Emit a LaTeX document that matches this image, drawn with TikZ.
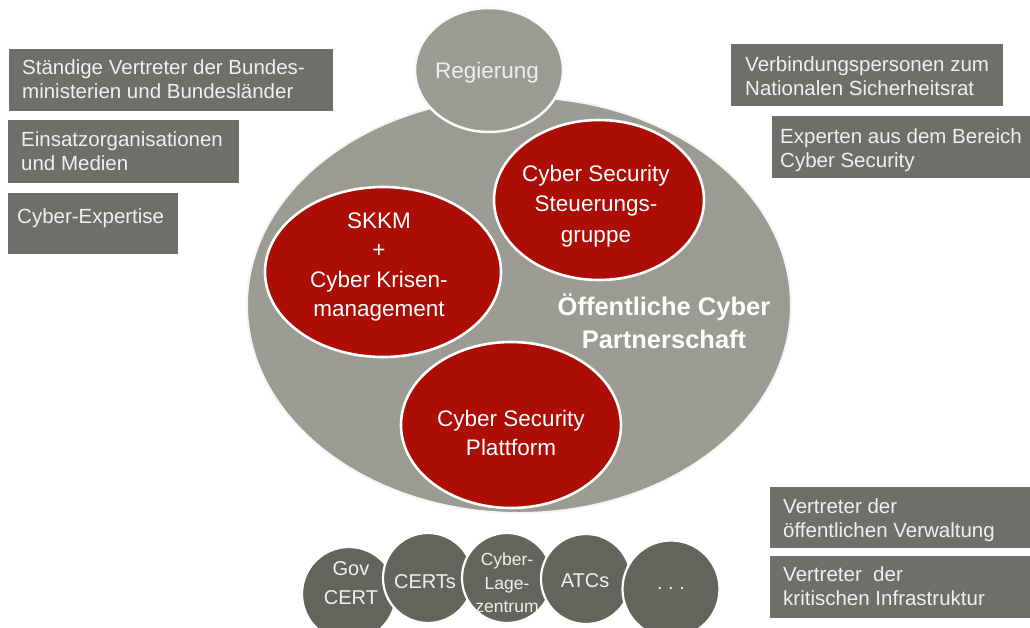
\documentclass[tikz,border=0pt]{standalone}
\usepackage{fontspec}
\setmainfont{Liberation Sans}
\usetikzlibrary{shapes.geometric}
\definecolor{bigGray}{HTML}{9C9B93}
\definecolor{redC}{HTML}{AC0D05}
\definecolor{boxGray}{HTML}{6F6E6B}
\definecolor{darkC}{HTML}{64635C}
\definecolor{txtL}{HTML}{F0F0F0}
\definecolor{edgeC}{HTML}{F5F5F5}
\begin{document}
\begin{tikzpicture}[x=1pt,y=-1pt,
  ell/.style={ellipse, inner sep=0pt, draw=edgeC},
  bigell/.style={ell, fill=bigGray, line width=2pt},
  redell/.style={ell, fill=redC, line width=2.6pt, draw=white},
  darkcirc/.style={circle, inner sep=0pt, fill=darkC, draw=white, line width=2.2pt},
  boxC/.style={rectangle, fill=boxGray, inner sep=0pt, anchor=north west},
  boxtext/.style={anchor=north west, inner sep=0pt, align=left, text=txtL,
     font=\fontsize{20.5}{24}\selectfont},
  redtext/.style={align=center, inner sep=0pt, text=white,
     font=\fontsize{22.5}{29.5}\selectfont},
  circtext/.style={align=center, inner sep=0pt, text=txtL,
     font=\fontsize{20}{29}\selectfont}]
\useasboundingbox (0,0) rectangle (1030,627);
% big ellipse
\node[bigell, minimum width=544pt, minimum height=416pt] (opcp) at (519,305) {};
\node[bigell, line width=2.5pt, draw=white!96!gray, minimum width=148pt, minimum height=124pt] (reg) at (489,70) {};
\node[redtext, text=txtL] (regT) at (487,73) {Regierung};
% red ellipses
\node[redell, minimum width=236pt, minimum height=170pt] (skkm) at (383,272) {};
\node[redell, minimum width=210pt, minimum height=160pt] (steu) at (599,200) {};
\node[redell, minimum width=220pt, minimum height=166pt] (platt) at (511,425) {};
\node[redtext] (skkmT) at (379,267) {SKKM\\+\\Cyber Krisen-\\management};
\node[redtext, font=\fontsize{22.5}{30.5}\selectfont] (steuT) at (596,206) {Cyber Security\\Steuerungs-\\gruppe};
\node[redtext] (plattT) at (511,433) {Cyber Security\\Plattform};
\node[redtext, font=\bfseries\fontsize{25.5}{33}\selectfont] (opcpT) at (664,321) {Öffentliche Cyber\\Partnerschaft};
% boxes
\node[boxC, minimum width=324pt, minimum height=62pt] (b1) at (9,49) {};
\node[boxtext] (b1t) at (22,57.7) {\strut Ständige Vertreter der Bundes-\\ministerien und Bundesländer};
\node[boxC, minimum width=231pt, minimum height=63pt] (b2) at (8,120) {};
\node[boxtext] (b2t) at (21,129.7) {\strut Einsatzorganisationen\\und Medien};
\node[boxC, minimum width=170pt, minimum height=61pt] (b3) at (8,193) {};
\node[boxtext] (b3t) at (17,206.7) {\strut Cyber-Expertise};
\node[boxC, minimum width=272pt, minimum height=62pt] (b4) at (731,44) {};
\node[boxtext] (b4t) at (745,54.7) {\strut Verbindungspersonen zum\\Nationalen Sicherheitsrat};
\node[boxC, minimum width=258pt, minimum height=62pt] (b5) at (772,116) {};
\node[boxtext] (b5t) at (780,126.7) {\strut Experten aus dem Bereich\\Cyber Security};
\node[boxC, minimum width=260pt, minimum height=61pt] (b6) at (770,487) {};
\node[boxtext] (b6t) at (783,496.7) {\strut Vertreter der\\öffentlichen Verwaltung};
\node[boxC, minimum width=260pt, minimum height=62pt] (b7) at (770,556) {};
\node[boxtext] (b7t) at (783,564.7) {\strut Vertreter\ \ der\\kritischen Infrastruktur};
% bottom circles
\node[darkcirc, minimum size=94pt] (c1) at (349,594) {};
\node[circtext] (c1t) at (351,583) {Gov\\CERT};
\node[darkcirc, minimum size=90pt] (c2) at (428,578) {};
\node[circtext] (c2t) at (425,582) {CERTs};
\node[darkcirc, minimum size=90pt] (c3) at (507,578) {};
\node[circtext, font=\fontsize{17.5}{23.5}\selectfont] (c3t) at (507,583) {Cyber-\\Lage-\\zentrum};
\node[darkcirc, minimum size=90pt] (c4) at (586,579) {};
\node[circtext] (c4t) at (585,581) {ATCs};
\node[darkcirc, minimum size=97pt] (c5) at (671,589) {};
\node[circtext] (c5t) at (671,588) {.\ .\ .};
\end{tikzpicture}
\end{document}
